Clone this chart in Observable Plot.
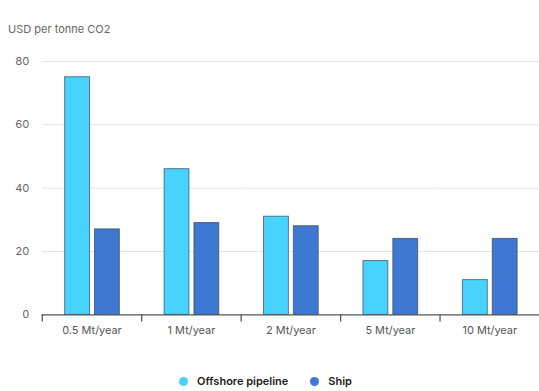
<!DOCTYPE html>
<html>
<head>
<meta charset="utf-8">
<script src="https://cdn.jsdelivr.net/npm/d3@7"></script>
<script src="https://cdn.jsdelivr.net/npm/@observablehq/plot@0.6"></script>
<style>
  html, body { margin: 0; padding: 0; background: #fff; overflow: hidden; }
  body { width: 539px; height: 391px; font-family: Inter, "Open Sans", sans-serif; }
  #unit { height: 40px; box-sizing: border-box; padding: 22px 0 0 8px; font-size: 11px; line-height: 14px; color: #666; }
  #chart svg { display: block; }
  #legend { display: flex; justify-content: center; align-items: center; gap: 22px; margin-top: 26px; font-size: 11px; font-weight: 600; color: #222; padding-right: 8px; }
  #legend span.item { display: flex; align-items: center; gap: 9px; }
  #legend span.dot { width: 9px; height: 9px; border-radius: 50%; display: inline-block; }
</style>
</head>
<body>
<div id="unit">USD per tonne CO2</div>
<div id="chart"></div>
<div id="legend"></div>
<script>
// Transport capacity categories
const sizes = ["0.5 Mt/year", "1 Mt/year", "2 Mt/year", "5 Mt/year", "10 Mt/year"];
// Transport modes
const modes = ["Offshore pipeline", "Ship"];
const modeColors = ["#48d3ff", "#3d78d3"];
// Cost, USD per tonne CO2
const offshorePipeline = [75, 46, 31, 17, 11];
const ship = [27, 29, 28, 24, 24];
const yTicks = [0, 20, 40, 60, 80];

const rows = sizes.flatMap((s, i) => [
  {size: s, mode: modes[0], value: offshorePipeline[i]},
  {size: s, mode: modes[1], value: ship[i]}
]);

const W = 542, H = 310, MT = 21, MB = 34, ML = 42;

const chart = Plot.plot({
  width: W,
  height: H,
  marginTop: MT,
  marginBottom: MB,
  marginLeft: ML,
  marginRight: 0,
  style: {fontFamily: "Inter, 'Open Sans', sans-serif", fontSize: "11px", color: "#555"},
  fx: {domain: sizes, padding: 0, label: null},
  x: {domain: modes, paddingInner: 0.18, paddingOuter: 0.74, axis: null},
  y: {domain: [0, 80], label: null},
  color: {domain: modes, range: modeColors},
  marks: [
    Plot.gridY(yTicks.filter(d => d > 0), {stroke: "#e4e4e4", strokeOpacity: 1}),
    Plot.axisY(yTicks, {tickSize: 0, tickPadding: 13, label: null, fill: "#666"}),
    Plot.barY(rows, {
      fx: "size", x: "mode", y: "value", fill: "mode",
      stroke: "#2e3a4a", strokeOpacity: 0.65, strokeWidth: 1
    }),
    Plot.ruleY([0], {stroke: "#555", strokeWidth: 1.3}),
    // boundary ticks at the left edge of each category group
    Plot.frame({anchor: "left", stroke: "#555", strokeWidth: 1.3,
      insetTop: H - MT - MB, insetBottom: -6}),
    Plot.axisFx({anchor: "bottom", tickSize: 0, tickPadding: 11, label: null, fill: "#555"})
  ]
});
document.getElementById("chart").append(chart);

const legend = document.getElementById("legend");
modes.forEach((m, i) => {
  const item = document.createElement("span");
  item.className = "item";
  const dot = document.createElement("span");
  dot.className = "dot";
  dot.style.background = modeColors[i];
  const label = document.createElement("span");
  label.textContent = m;
  item.append(dot, label);
  legend.append(item);
});
</script>
</body>
</html>
